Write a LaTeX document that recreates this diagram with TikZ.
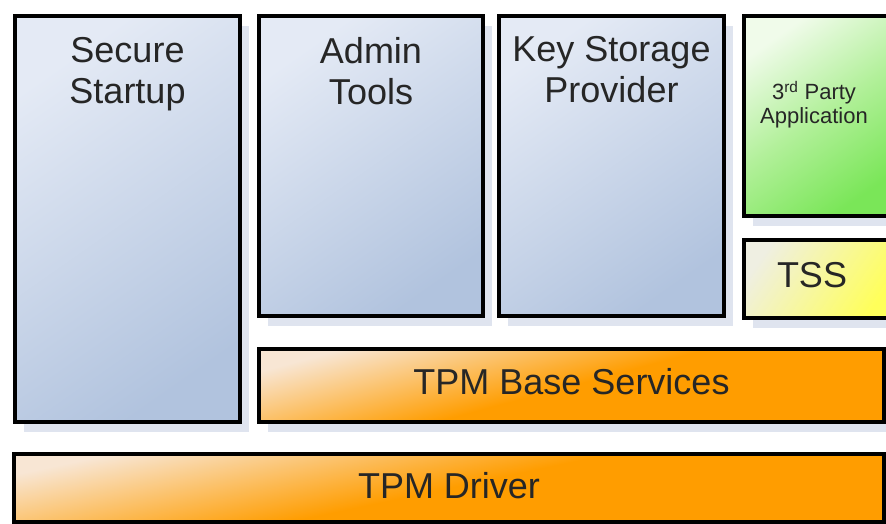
\documentclass[tikz,border=0pt]{standalone}
\usepackage{fontspec}
\setmainfont{Liberation Sans}
\usetikzlibrary{shadows}

\definecolor{bluelight}{HTML}{E4EAF5}
\definecolor{bluedark}{HTML}{B1C3DE}
\definecolor{greenlight}{HTML}{F0FBEA}
\definecolor{greenmid}{HTML}{B2F09A}
\definecolor{greendark}{HTML}{7AE658}
\definecolor{yellowlight}{HTML}{EFEFE2}
\definecolor{yellowdark}{HTML}{FFFF5A}
\definecolor{orangelight}{HTML}{F8E6D4}
\definecolor{orangedark}{HTML}{FF9D00}
\definecolor{shadowgray}{HTML}{DFE4EF}

\tikzset{
  layer/.style={draw=black, line width=4pt, anchor=north west, inner sep=0pt,
    drop shadow={shadow xshift=9pt, shadow yshift=-10pt, fill=shadowgray, opacity=1}},
  bluebox/.style={layer, top color=bluelight, bottom color=bluedark, shading angle=35},
  greenbox/.style={layer, top color=greenlight, bottom color=greendark, middle color=greenmid, shading angle=35},
  yellowbox/.style={layer, top color=yellowlight, bottom color=yellowdark, shading angle=55},
  orangebox/.style={layer, top color=orangelight, bottom color=orangedark, middle color=orangedark, shading angle=#1},
  title/.style={inner sep=0pt, align=center, text=black!85, font=\fontsize{36}{41}\selectfont},
  smalltitle/.style={title, font=\fontsize{22}{24}\selectfont}
}

\begin{document}
\begin{tikzpicture}[x=1pt, y=-1pt]
  \useasboundingbox (0,0) rectangle (886,523);

  % upper layer
  \node[bluebox, minimum width=225pt, minimum height=406pt] (ss) at (13,14) {};
  \node[bluebox, minimum width=224pt, minimum height=300pt] (admin) at (257,14) {};
  \node[bluebox, minimum width=225pt, minimum height=300pt] (ksp) at (497,14) {};
  \node[greenbox, minimum width=150pt, minimum height=200pt] (app) at (742,14) {};
  \node[yellowbox, minimum width=150pt, minimum height=78pt] (tss) at (742,238) {};

  % services and driver
  \node[orangebox=15, minimum width=625pt, minimum height=73pt] (tbs) at (257,347) {};
  \node[orangebox=12, minimum width=870pt, minimum height=68pt] (drv) at (12,452) {};

  % labels
  \node[title, anchor=north] (sstext) at (ss.north |- 0,37) {Secure\\Startup};
  \node[title, anchor=north] (admintext) at (admin.north |- 0,37) {Admin\\Tools};
  \node[title, anchor=north] (ksptext) at (ksp.north |- 0,36) {Key Storage\\Provider};
  \node[smalltitle, anchor=north] (apptext) at (814,81) {3\textsuperscript{rd} Party\\Application};
  \node[title] (tsstext) at (812,275) {TSS};
  \node[title] (tbstext) at (tbs.center |- 0,382) {TPM Base Services};
  \node[title] (drvtext) at (drv.center |- 0,486) {TPM Driver};
\end{tikzpicture}
\end{document}
